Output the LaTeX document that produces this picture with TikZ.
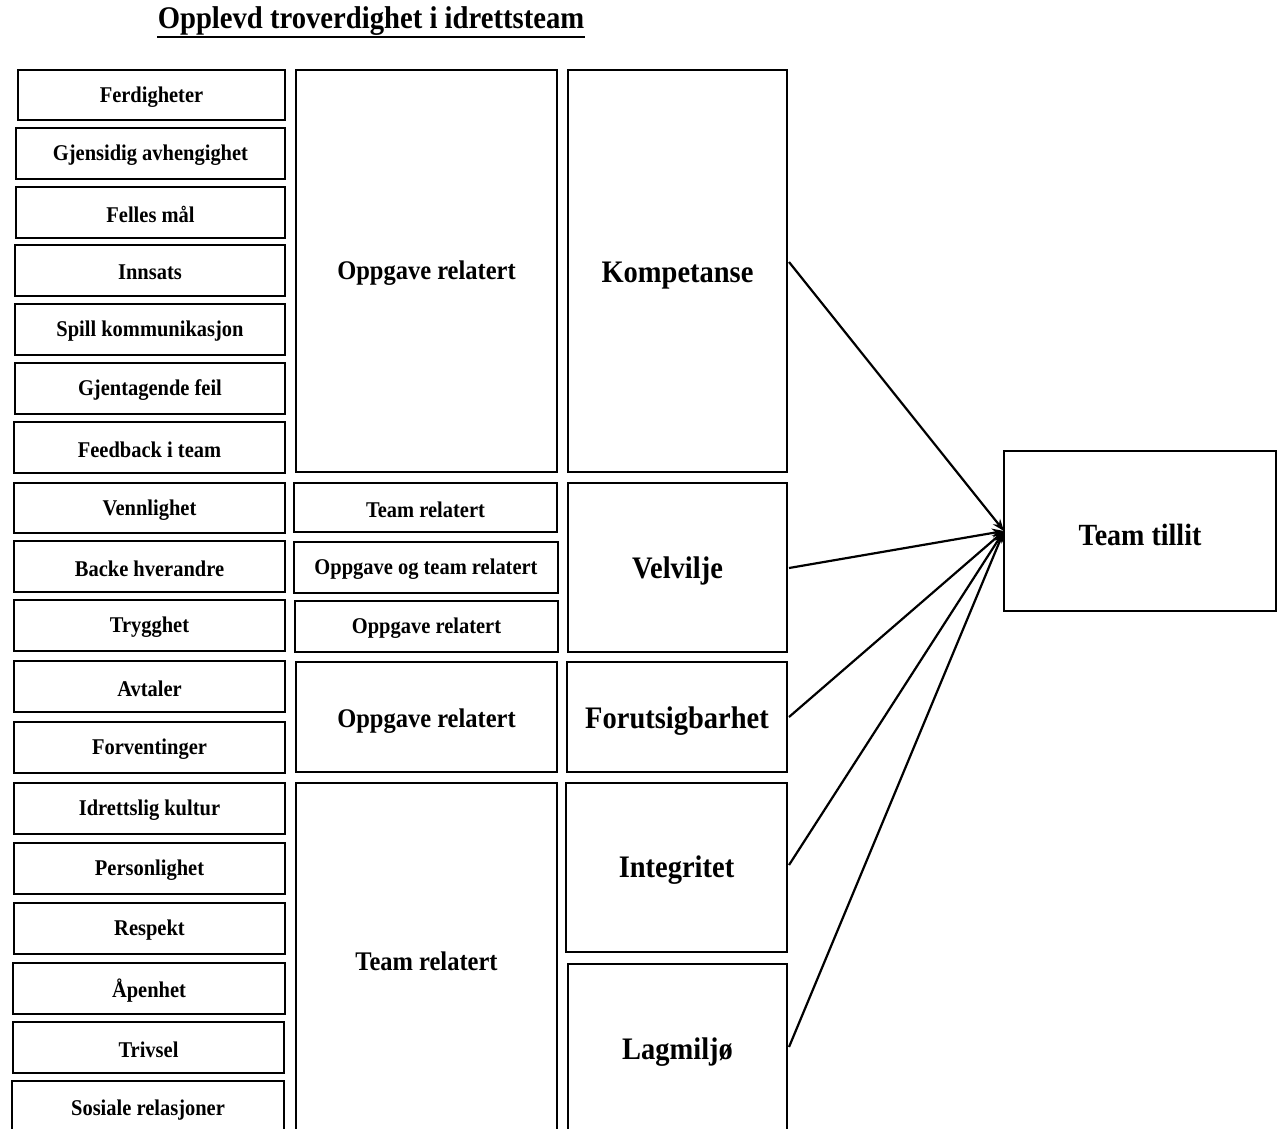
\documentclass[tikz,border=0pt]{standalone}
\usepackage{fontspec}
\setmainfont[FakeStretch=0.91]{Liberation Serif}
\usetikzlibrary{arrows.meta}
\tikzset{
  bx/.style={draw=black, line width=2.6pt, fill=white},
  lbl/.style={font=\bfseries\fontsize{22.5}{26}\selectfont, yshift=-2pt},
  midbig/.style={font=\bfseries\fontsize{26.9}{30}\selectfont, yshift=-2pt},
  dim/.style={font=\bfseries\fontsize{31.3}{35}\selectfont, yshift=-2pt},
  conn/.style={line width=2.2pt, -{Stealth[length=12pt,width=9pt]}},
}
\newcommand{\bxat}[6]{% name, x1, y1, x2, y2, text
  \draw[bx] (#2,#3) rectangle (#4,#5);
  \node[lbl] (#1) at ({(#2+#4)/2},{(#3+#5)/2}) {#6};
}
\begin{document}
\begin{tikzpicture}[x=1pt,y=-1pt]
\useasboundingbox (0,0) rectangle (1285,1128);
\clip (0,0) rectangle (1285,1128);
\fill[white] (0,0) rectangle (1285,1128);
% title
\node[font=\bfseries\fontsize{31.5}{35}\selectfont, inner sep=0pt] (title) at (371,21) {Opplevd troverdighet i idrettsteam};
\draw[line width=2pt] (157,37) -- (585,37);
% left column
\bxat{f1}{18}{70}{285}{120}{Ferdigheter}
\bxat{f2}{16}{128}{285}{179}{Gjensidig avhengighet}
\bxat{f3}{16}{187}{285}{238}{Felles mål}
\bxat{f4}{15}{245}{285}{296}{Innsats}
\bxat{f5}{15}{304}{285}{355}{Spill kommunikasjon}
\bxat{f6}{15}{363}{285}{414}{Gjentagende feil}
\bxat{f7}{14}{422}{285}{473}{Feedback i team}
\bxat{f8}{14}{483}{285}{533}{Vennlighet}
\bxat{f9}{14}{541}{285}{592}{Backe hverandre}
\bxat{f10}{14}{600}{285}{651}{Trygghet}
\bxat{f11}{14}{661}{285}{712}{Avtaler}
\bxat{f12}{14}{722}{285}{773}{Forventinger}
\bxat{f13}{14}{783}{285}{834}{Idrettslig kultur}
\bxat{f14}{14}{843}{285}{894}{Personlighet}
\bxat{f15}{14}{903}{285}{954}{Respekt}
\bxat{f16}{13}{963}{285}{1014}{Åpenhet}
\bxat{f17}{13}{1022}{284}{1073}{Trivsel}
\bxat{f18}{12}{1081}{284}{1135}{Sosiale relasjoner}
% middle column
\draw[bx] (296,70) rectangle (557,472);
\node[midbig] (m1) at (426.5,271) {Oppgave relatert};
\bxat{m2}{294}{483}{557}{532}{Team relatert}
\bxat{m3}{294}{542}{558}{593}{Oppgave og team relatert}
\bxat{m4}{295}{601}{558}{652}{Oppgave relatert}
\draw[bx] (296,662) rectangle (557,772);
\node[midbig] (m5) at (426.5,719) {Oppgave relatert};
\draw[bx] (296,783) rectangle (557,1135);
\node[midbig] (m6) at (426.5,959) {Team relatert};
% right column
\draw[bx] (568,70) rectangle (787,472);
\node[dim] (komp) at (677.5,274) {Kompetanse};
\draw[bx] (568,483) rectangle (787,652);
\node[dim] (velv) at (677.5,569) {Velvilje};
\draw[bx] (567,662) rectangle (787,772);
\node[dim] (foru) at (677,719) {Forutsigbarhet};
\draw[bx] (566,783) rectangle (787,952);
\node[dim] (integ) at (676.5,868) {Integritet};
\draw[bx] (568,964) rectangle (787,1135);
\node[dim] (lag) at (677.5,1050) {Lagmiljø};
% team tillit
\draw[bx] (1004,451) rectangle (1276,611);
\node[font=\bfseries\fontsize{30.8}{34}\selectfont, yshift=-2pt] (tt) at (1140,533) {Team tillit};
\coordinate (ttin) at (1004,531);
\coordinate (ka) at (789,262);
\coordinate (va) at (789,568);
\coordinate (fa) at (789,717);
\coordinate (ia) at (789,865);
\coordinate (la) at (789,1047);
\draw[conn] (ka) -- (ttin);
\draw[conn] (va) -- (ttin);
\draw[conn] (fa) -- (ttin);
\draw[conn] (ia) -- (ttin);
\draw[conn] (la) -- (ttin);
\end{tikzpicture}
\end{document}
